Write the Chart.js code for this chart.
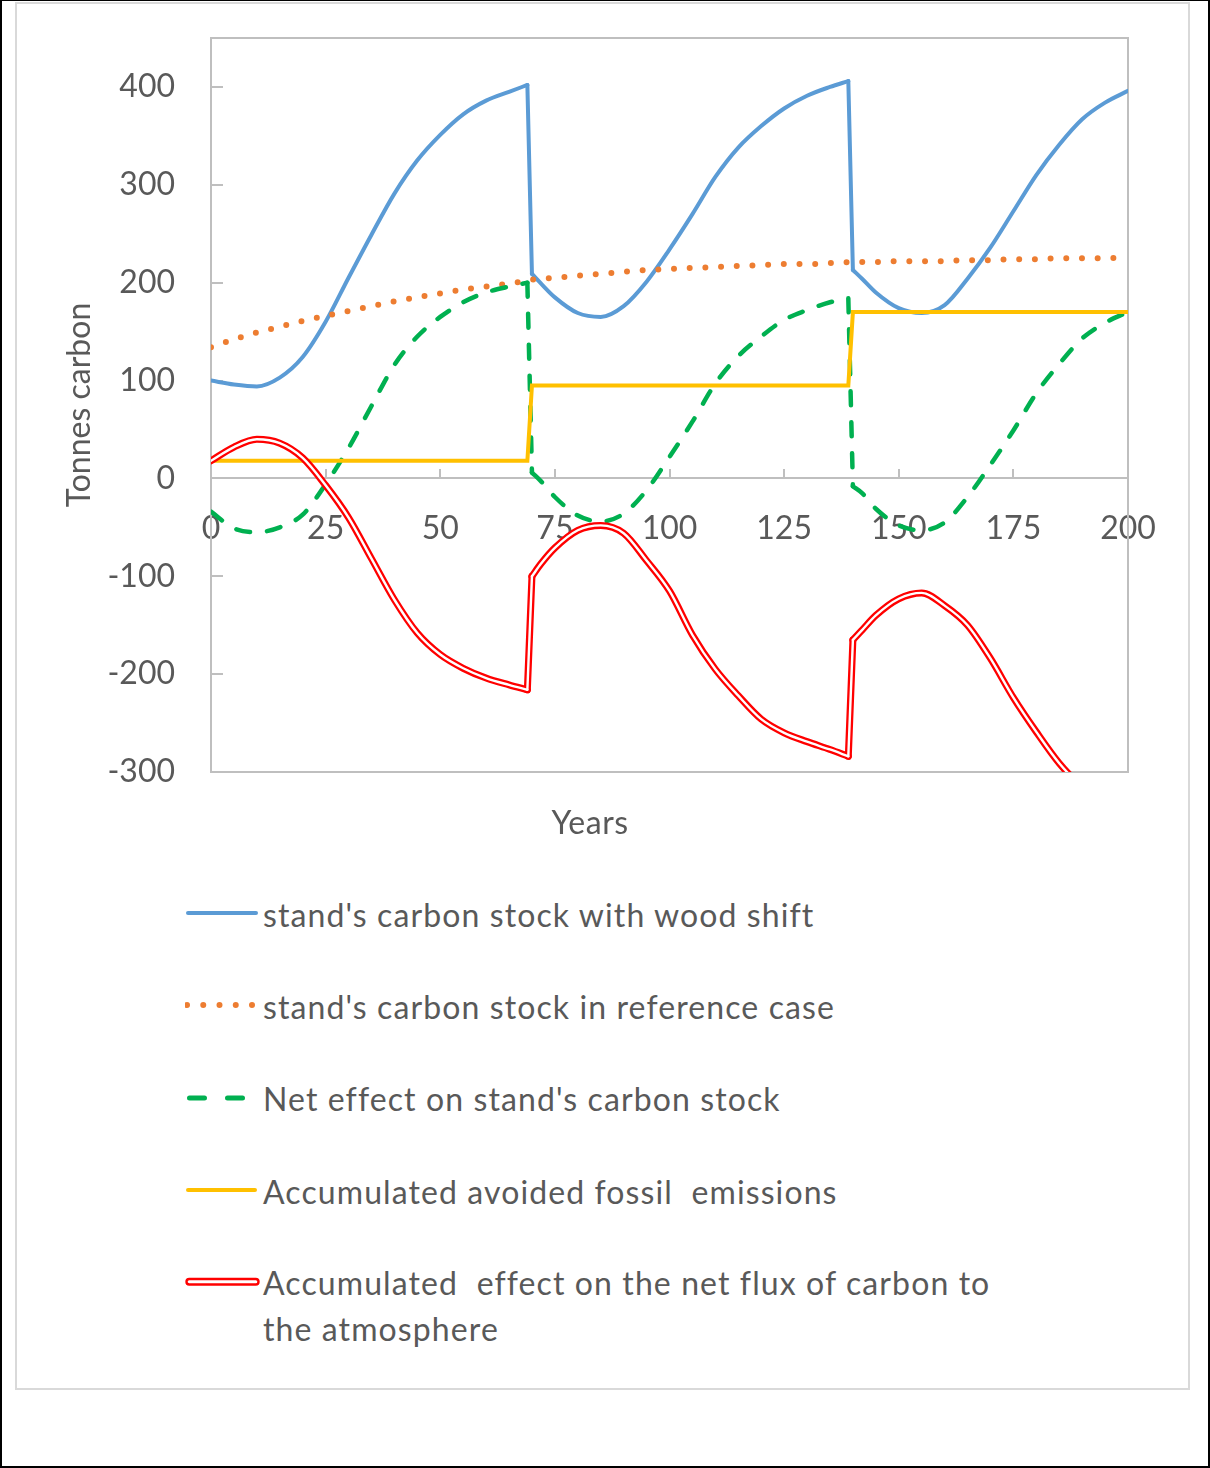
<!DOCTYPE html>
<html>
<head>
<meta charset="utf-8">
<script src="https://cdn.jsdelivr.net/npm/chart.js@4/dist/chart.umd.min.js"></script>
<style>
  body { margin: 0; background: #fff; font-family: Lato, sans-serif; }
  #page { position: relative; width: 1210px; height: 1468px; box-sizing: border-box;
          border: 2px solid #000; border-top-width: 1px; background: #fff; }
  #frame { position: absolute; left: 13px; top: 1px; width: 1175px; height: 1388px;
           box-sizing: border-box; border: 2px solid #d9d9d9; }
  #plot { position: absolute; left: 0; top: 0; width: 1171px; height: 860px; }
  #xtitle { position: absolute; left: 473px; width: 200px; top: 795px; text-align: center;
            font-size: 32px; line-height: 46px; color: #595959; letter-spacing: 0.5px; }
  .sample { position: absolute; left: 168px; width: 80px; height: 46px; }
  .txt { position: absolute; left: 246px; font-size: 32px; line-height: 46px; color: #595959;
         white-space: pre; letter-spacing: 1.1px; }
</style>
</head>
<body>
<div id="page">
  <div id="frame">
    <div id="plot"><canvas id="chart"></canvas></div>
    <div id="xtitle">Years</div>

    <svg class="sample" style="top:888px"><line x1="3" y1="21" x2="71" y2="21" stroke="#5b9bd5" stroke-width="4" stroke-linecap="round"/></svg>
    <div class="txt" style="top:888px">stand's carbon stock with wood shift</div>

    <svg class="sample" style="top:980px"><line x1="2" y1="21" x2="68" y2="21" stroke="#ed7d31" stroke-width="6" stroke-linecap="round" stroke-dasharray="0 16.25"/></svg>
    <div class="txt" style="top:980px">stand's carbon stock in reference case</div>

    <svg class="sample" style="top:1072px"><line x1="4.5" y1="22" x2="57.5" y2="22" stroke="#00b050" stroke-width="5" stroke-linecap="round" stroke-dasharray="15 23"/></svg>
    <div class="txt" style="top:1072px">Net effect on stand's carbon stock</div>

    <svg class="sample" style="top:1165px"><line x1="3" y1="21" x2="70" y2="21" stroke="#ffc000" stroke-width="4" stroke-linecap="round"/></svg>
    <div class="txt" style="top:1165px">Accumulated avoided fossil  emissions</div>

    <svg class="sample" style="top:1256px"><rect x="1.5" y="19" width="72" height="5.5" rx="2.7" fill="#fff" stroke="#ff0000" stroke-width="2.4"/></svg>
    <div class="txt" style="top:1256px">Accumulated  effect on the net flux of carbon to<br>the atmosphere</div>
  </div>
</div>

<script>
const years = [0, 5, 10, 15, 20, 25, 30, 35, 40, 45, 50, 55, 60, 65, 69,
  70, 72, 75, 80, 85, 90, 95, 100, 105, 110, 115, 120, 125, 130, 135, 139,
  140, 142, 145, 150, 155, 160, 165, 170, 175, 180, 185, 190, 195, 200];

// last year before each harvest
const harvestBreaks = [69, 139];

// stand's carbon stock with wood shift
const stockWoodShift = [100, 96, 94, 103, 124, 160, 205, 249, 291, 325, 351, 372, 386, 395, 402,
  209, 199, 185, 169, 165, 176, 201, 234, 270, 308, 338, 360, 378, 391, 400, 406,
  213, 204, 190, 174, 169, 177, 204, 236, 273, 310, 341, 367, 384, 396];

// stand's carbon stock in reference case
const stockReference = [134, 142, 149, 155, 161, 166, 171, 176, 181, 185, 189, 193, 196, 199, 202,
  203, 204, 205, 207, 209, 211, 213, 214, 215, 216, 217, 218, 219, 219, 220, 221,
  221, 221, 221, 222, 222, 222, 223, 223, 224, 224, 225, 225, 225, 226];

// Net effect on stand's carbon stock
const netStandEffect = [-34, -51, -55, -50, -37, -6, 31, 74, 116, 145, 165, 180, 190, 196, 200,
  6, -3, -19, -38, -44, -36, -12, 22, 58, 97, 125, 145, 162, 172, 180, 184,
  -8, -15, -31, -48, -53, -45, -19, 14, 49, 87, 117, 143, 159, 170];

// Accumulated avoided fossil emissions
const avoidedFossil = [18, 18, 18, 18, 18, 18, 18, 18, 18, 18, 18, 18, 18, 18, 18,
  95, 95, 95, 95, 95, 95, 95, 95, 95, 95, 95, 95, 95, 95, 95, 95,
  170, 170, 170, 170, 170, 170, 170, 170, 170, 170, 170, 170, 170, 170];

// Accumulated effect on the net flux of carbon to the atmosphere
const netFluxEffect = [18, 32, 40, 36, 21, -7, -40, -82, -124, -158, -180, -194, -204, -211, -216,
  -100, -87, -71, -53, -48, -56, -84, -115, -160, -195, -222, -246, -260, -269, -277, -284,
  -165, -155, -140, -123, -117, -130, -150, -184, -224, -259, -291, -315, -330, -342];

const xTicks = [0, 25, 50, 75, 100, 125, 150, 175, 200];
const yTicks = [-300, -200, -100, 0, 100, 200, 300, 400];

// growth parts of a series, broken at each harvest
const growth = (vals) => {
  const out = [];
  years.forEach((x, i) => {
    out.push({ x: x, y: vals[i] });
    if (harvestBreaks.includes(x)) out.push({ x: x + 0.5, y: null });
  });
  return out;
};

// the straight harvest drops / jumps of a series
const harvest = (vals) => {
  const out = [];
  harvestBreaks.forEach((b) => {
    const i = years.indexOf(b);
    out.push({ x: years[i], y: vals[i] }, { x: years[i + 1], y: vals[i + 1] }, { x: years[i + 1] + 0.5, y: null });
  });
  return out;
};

const line = (label, data, color, width, extra) => Object.assign({
  label: label,
  data: data,
  borderColor: color,
  borderWidth: width,
  pointRadius: 0,
  fill: false,
  borderCapStyle: 'round',
  borderJoinStyle: 'round',
  cubicInterpolationMode: 'monotone',
}, extra || {});

const straight = { cubicInterpolationMode: 'default', tension: 0 };

const axisFont = { family: 'Lato', size: 32 };
const grey = '#595959';

// keep the tick labels from pushing the plot area inwards
const noPadding = (s) => {
  s.paddingLeft = 0;
  s.paddingRight = 0;
  s.paddingTop = 0;
  s.paddingBottom = 0;
};

// grey box round the plot area
const plotFrame = {
  id: 'plotFrame',
  beforeDatasetsDraw(chart) {
    const { ctx, chartArea: a } = chart;
    ctx.save();
    ctx.strokeStyle = '#bfbfbf';
    ctx.lineWidth = 2;
    ctx.strokeRect(a.left, a.top, a.right - a.left, a.bottom - a.top);
    ctx.restore();
  },
};

const dots = { borderDash: [0, 15.7] };
const dashes = { borderDash: [14, 17] };

new Chart(document.getElementById('chart'), {
  type: 'line',
  data: {
    datasets: [
      line("stand's carbon stock with wood shift", growth(stockWoodShift), '#5b9bd5', 4, { order: 5 }),
      line('', harvest(stockWoodShift), '#5b9bd5', 4, Object.assign({ order: 5 }, straight)),
      line("stand's carbon stock in reference case", years.map((x, i) => ({ x: x, y: stockReference[i] })),
        '#ed7d31', 6, Object.assign({ order: 4 }, dots)),
      line("Net effect on stand's carbon stock", growth(netStandEffect), '#00b050', 4.5,
        Object.assign({ order: 3 }, dashes)),
      line('', harvest(netStandEffect), '#00b050', 4.5, Object.assign({ order: 3 }, dashes, straight)),
      line('Accumulated avoided fossil  emissions', years.map((x, i) => ({ x: x, y: avoidedFossil[i] })),
        '#ffc000', 4, Object.assign({ order: 2, borderCapStyle: 'butt', borderJoinStyle: 'miter' }, straight)),
      line('Accumulated  effect on the net flux of carbon to the atmosphere', growth(netFluxEffect),
        '#ff0000', 7, { order: 1 }),
      line('', harvest(netFluxEffect), '#ff0000', 7, Object.assign({ order: 1 }, straight)),
      line('', growth(netFluxEffect), '#ffffff', 2.4, { order: 0 }),
      line('', harvest(netFluxEffect), '#ffffff', 2.4, Object.assign({ order: 0 }, straight)),
    ],
  },
  options: {
    responsive: true,
    maintainAspectRatio: false,
    animation: false,
    devicePixelRatio: 1,
    layout: { padding: { left: 0, right: 60, top: 34, bottom: 92 } },
    plugins: { legend: { display: false }, tooltip: { enabled: false } },
    scales: {
      x: {
        type: 'linear',
        min: 0,
        max: 200,
        position: { y: 0 },
        afterBuildTicks: (s) => { s.ticks = xTicks.map((v) => ({ value: v })); },
        afterFit: (s) => { s.height = 0; noPadding(s); },
        grid: { drawOnChartArea: false, drawTicks: true, tickLength: -10, color: '#bfbfbf', lineWidth: 2 },
        border: { color: '#bfbfbf', width: 2 },
        ticks: { padding: 41, font: axisFont, color: grey, maxRotation: 0, autoSkip: false },
      },
      y: {
        type: 'linear',
        min: -300,
        max: 450,
        afterBuildTicks: (s) => { s.ticks = yTicks.map((v) => ({ value: v })); },
        afterFit: (s) => { s.width = 194; noPadding(s); },
        grid: { drawOnChartArea: false, drawTicks: true, tickLength: -12, color: '#bfbfbf', lineWidth: 2 },
        border: { color: '#bfbfbf', width: 2 },
        ticks: { padding: 48, font: axisFont, color: grey, callback: (v) => String(v) },
        title: { display: true, text: 'Tonnes carbon', font: axisFont, color: grey, padding: { top: 43, bottom: 0 } },
      },
    },
  },
  plugins: [plotFrame],
});
</script>
</body>
</html>
